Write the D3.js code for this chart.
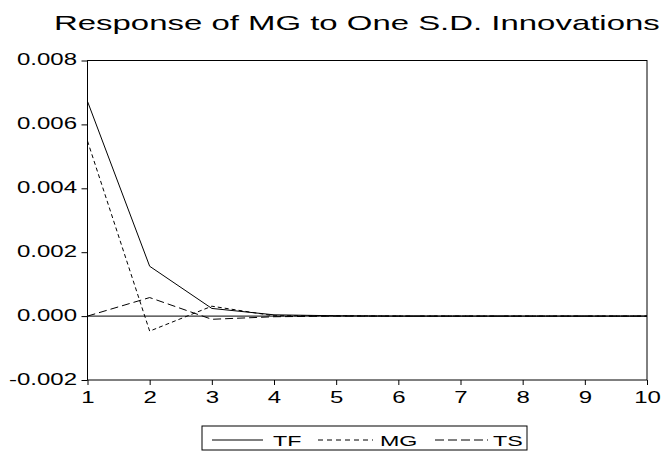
<!DOCTYPE html>
<html>
<head>
<meta charset="utf-8">
<script src="https://cdn.jsdelivr.net/npm/d3@7"></script>
<style>
  body { margin: 0; background: #fff; }
  text { font-family: "Liberation Sans", Arial, sans-serif; fill: #000; }
</style>
</head>
<body>
<div class="graph"></div>
<script>
// data
const periods = [1, 2, 3, 4, 5, 6, 7, 8, 9, 10];
const tfValues = [0.00672, 0.00156, 0.00024, 0.00004, 0.00001, 0, 0, 0, 0, 0];
const mgValues = [0.00548, -0.00047, 0.00031, 0.00001, 0.00001, 0, 0, 0, 0, 0];
const tsValues = [0, 0.00058, -0.0001, -0.00002, 0, 0, 0, 0, 0, 0];
const yTicks = [-0.002, 0, 0.002, 0.004, 0.006, 0.008];
const seriesNames = ["TF", "MG", "TS"];
const titleText = "Response of MG to One S.D. Innovations";

//setting
const width = 663;
const height = 453;
const plotLeft = 87.5;
const plotRight = 647;
const plotTop = 60.5;
const plotBottom = 380;
const stretch = 1.5;

const xScale = d3.scaleLinear().domain([1, 10]).range([plotLeft, plotRight]);
const yScale = d3.scaleLinear().domain([-0.002, 0.008]).range([plotBottom, plotTop]);

const svg = d3
  .select(".graph")
  .append("svg")
  .attr("width", width)
  .attr("height", height);

//title (glyphs in the original are stretched wide)
const title = svg
  .append("text")
  .attr("font-size", 21)
  .text(titleText);
const titleLen = title.node().getComputedTextLength();
title.attr("transform", "translate(54,30) scale(" + 606 / titleLen + ",1)");

//frame
svg
  .append("rect")
  .attr("x", plotLeft)
  .attr("y", plotTop)
  .attr("width", plotRight - plotLeft)
  .attr("height", plotBottom - plotTop)
  .attr("fill", "none")
  .attr("stroke", "#000")
  .attr("stroke-width", 1);

//zero line
svg
  .append("line")
  .attr("x1", plotLeft)
  .attr("x2", plotRight)
  .attr("y1", yScale(0))
  .attr("y2", yScale(0))
  .attr("stroke", "#000")
  .attr("stroke-width", 1);

//axes
const yAxis = d3
  .axisLeft(yScale)
  .tickValues(yTicks)
  .tickSize(6)
  .tickFormat(d => d.toFixed(3)); // plain hyphen for negatives
const gy = svg
  .append("g")
  .attr("transform", "translate(" + plotLeft + ",0)")
  .call(yAxis);
gy.select(".domain").remove();
gy.selectAll("text")
  .attr("x", 0)
  .attr("dy", null)
  .attr("font-size", 16)
  .attr("font-family", null)
  .attr("transform", "translate(-10.5,4) scale(" + stretch + ",1)");

const xAxis = d3
  .axisBottom(xScale)
  .tickValues(periods)
  .tickSize(5)
  .tickFormat(d3.format("d"));
const gx = svg
  .append("g")
  .attr("transform", "translate(0," + plotBottom + ")")
  .call(xAxis);
gx.select(".domain").remove();
gx.selectAll("text")
  .attr("y", 0)
  .attr("dy", null)
  .attr("font-size", 16)
  .attr("font-family", null)
  .attr("transform", "translate(0,23) scale(" + stretch + ",1)");
svg.selectAll(".tick line").attr("stroke", "#000");

//lines
const dashes = ["none", "4,3", "8,4"];
const allSeries = [tfValues, mgValues, tsValues];
const line = d3
  .line()
  .x((d, i) => xScale(periods[i]))
  .y(d => yScale(d));

svg
  .selectAll(".series")
  .data(allSeries)
  .enter()
  .append("path")
  .attr("class", "series")
  .attr("d", d => line(d))
  .attr("fill", "none")
  .attr("stroke", "#000")
  .attr("stroke-width", 1)
  .attr("stroke-dasharray", (d, i) => dashes[i]);

//legend
const legend = svg.append("g");
legend
  .append("rect")
  .attr("x", 202)
  .attr("y", 426)
  .attr("width", 325)
  .attr("height", 24)
  .attr("fill", "none")
  .attr("stroke", "#000")
  .attr("stroke-width", 1);

const legendLineX = [212, 318, 435];
const legendLineW = [51, 55, 53];
const legendTextX = [273, 380, 493];
const legendDashes = ["none", "5,4", "9,4"];

legend
  .selectAll(".key")
  .data(seriesNames)
  .enter()
  .append("line")
  .attr("class", "key")
  .attr("x1", (d, i) => legendLineX[i])
  .attr("x2", (d, i) => legendLineX[i] + legendLineW[i])
  .attr("y1", 440)
  .attr("y2", 440)
  .attr("stroke", "#000")
  .attr("stroke-width", 1)
  .attr("stroke-dasharray", (d, i) => legendDashes[i]);

legend
  .selectAll(".label")
  .data(seriesNames)
  .enter()
  .append("text")
  .attr("class", "label")
  .attr("font-size", 15.5)
  .attr("transform", (d, i) => "translate(" + legendTextX[i] + ",446) scale(" + stretch + ",1)")
  .text(d => d);
</script>
</body>
</html>
